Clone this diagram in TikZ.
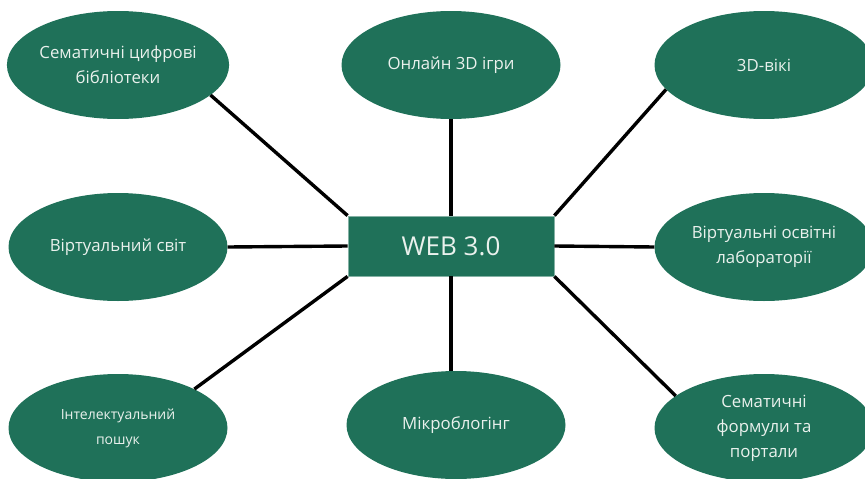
\documentclass[tikz,border=0pt]{standalone}
\usepackage{fontspec}
\setmainfont{Open Sans}
\usetikzlibrary{shapes.geometric}
\definecolor{leaf}{HTML}{1F7159}
\definecolor{paper}{HTML}{EAF1ED}

\begin{document}
\begin{tikzpicture}[
  x=1pt, y=-1pt,
  bubble/.style={ellipse, fill=leaf, text=paper, inner sep=0pt, minimum width=219pt, minimum height=108pt, align=center, font=\fontsize{16.8}{25}\selectfont},
  hub/.style={rectangle, fill=leaf, draw=leaf!55!white, line width=0.8pt, text=paper, minimum width=206pt, minimum height=60pt, font=\fontsize{26}{30}\selectfont},
  link/.style={black, line width=3.4pt}
]
\useasboundingbox (0,0) rectangle (865,479);

\node[hub] (web) at (451,246) {WEB 3.0};

\node[bubble] (lib) at (118,65) {Сематичні цифрові\\бібліотеки};
\node[bubble] (games) at (451,65) {Онлайн 3D ігри};
\node[bubble] (wiki) at (764,65) {3D-вікі};
\node[bubble] (world) at (118,247) {Віртуальний світ};
\node[bubble] (labs) at (764,247) {Віртуальні освітні\\лабораторії};
\node[bubble, font=\fontsize{14}{25}\selectfont] (search) at (118,428) {Інтелектуальний\\пошук};
\node[bubble] (blog) at (456,425) {Мікроблогінг};
\node[bubble] (portal) at (764,428) {Сематичні\\формули та\\портали};

\draw[link] (web.north west) -- (lib.-18);
\draw[link] (web.north) -- (games.south);
\draw[link] (web.north east) -- (wiki.194);
\draw[link] (web.west) -- (world.east);
\draw[link] (web.east) -- (labs.west);
\draw[link] (web.south west) -- (search.27);
\draw[link] (web.south) -- (web.south |- blog.north);
\draw[link] (web.south east) -- (portal.160);
\end{tikzpicture}
\end{document}
